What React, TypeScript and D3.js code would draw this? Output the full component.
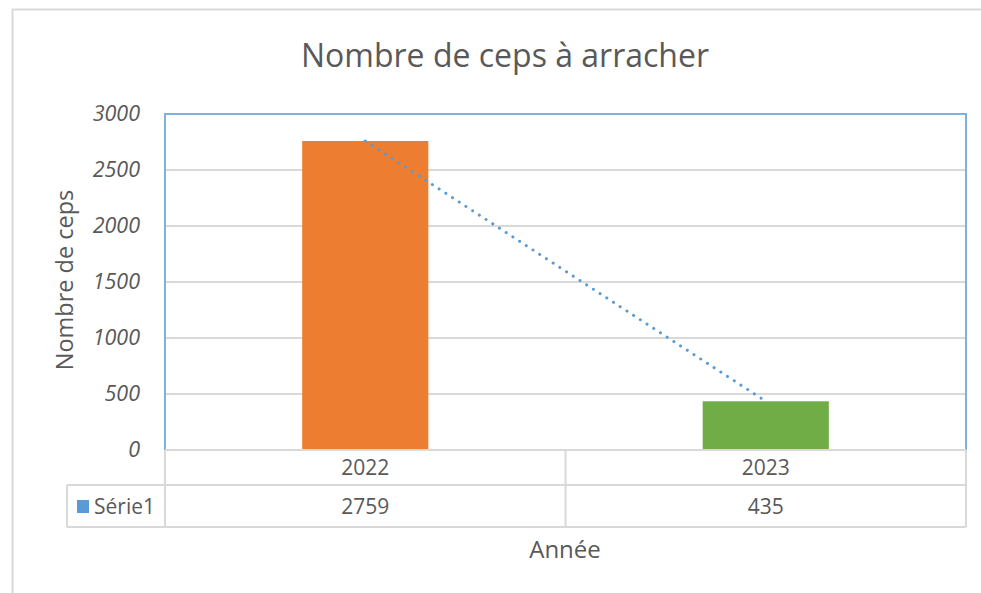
import React from 'react';
import * as d3 from 'd3';

const years = ['2022', '2023'];
const values = [2759, 435];
const barColors = ['#ED7D31', '#70AD47'];
const yTicks = [0, 500, 1000, 1500, 2000, 2500, 3000];
const seriesName = 'Série1';

const W = 981;
const H = 593;
const FONT = '"Open Sans", "Liberation Sans", sans-serif';
const GRID = '#d9d9d9';
const TEXT = '#595959';

export default function App() {
  const left = 165;
  const right = 966;
  const top = 114;
  const bottom = 450;

  const x = d3.scaleBand<string>().domain(years).range([left, right]).paddingInner(0).paddingOuter(0);
  const y = d3.scaleLinear().domain([0, 3000]).range([bottom, top]);
  const barW = x.bandwidth() * 0.315;

  // linear trend line through the two points
  const cx = years.map(yr => (x(yr) as number) + x.bandwidth() / 2);
  const trend = d3.line<number>().x((_, i) => cx[i]).y(d => y(d));

  const row1 = bottom;
  const row2 = 485;
  const row3 = 527;
  const tableLeft = 67;

  return (
    <svg width={W} height={H} style={{ position: 'absolute', left: 0, top: 0, background: '#fff' }}>
      <rect x={12.5} y={9.5} width={W + 20} height={H + 20} fill="#fff" stroke={GRID} strokeWidth={2} />

      <text x={505} y={67} textAnchor="middle" fontFamily={FONT} fontSize={32} fill={TEXT}>
        Nombre de ceps à arracher
      </text>

      {yTicks.map(t => (
        <g key={t}>
          {t > 0 && t < 3000 && (
            <line x1={left} x2={right} y1={y(t)} y2={y(t)} stroke={GRID} strokeWidth={2} />
          )}
          <text x={140} y={y(t) + 7} textAnchor="end" fontFamily={FONT} fontStyle="italic"
            fontSize={21.5} fill={TEXT}>{t}</text>
        </g>
      ))}

      {values.map((v, i) => (
        <rect key={years[i]} x={cx[i] - barW / 2} y={y(v)} width={barW} height={y(0) - y(v)}
          fill={barColors[i]} />
      ))}

      <path d={trend(values) || ''} fill="none" stroke="#5B9BD5" strokeWidth={3}
        strokeDasharray="0.1 7.9" strokeLinecap="round" />

      {/* plot border */}
      <path d={`M${left},${bottom}V${top}H${right}V${bottom}`} fill="none" stroke="#7fb0e0" strokeWidth={2} />

      {/* data table */}
      <g stroke={GRID} strokeWidth={2} fill="none">
        <line x1={left} x2={right} y1={row1} y2={row1} />
        <line x1={tableLeft} x2={right} y1={row2} y2={row2} />
        <line x1={tableLeft} x2={right} y1={row3} y2={row3} />
        <line x1={tableLeft} x2={tableLeft} y1={row2} y2={row3} />
        <line x1={left} x2={left} y1={row1} y2={row3} />
        {years.map(yr => (
          <line key={yr} x1={(x(yr) as number) + x.bandwidth()} x2={(x(yr) as number) + x.bandwidth()}
            y1={row1} y2={row3} />
        ))}
      </g>
      {years.map((yr, i) => (
        <g key={yr} fontFamily={FONT} fontSize={21} fill={TEXT} textAnchor="middle">
          <text x={cx[i]} y={(row1 + row2) / 2 + 7.5}>{yr}</text>
          <text x={cx[i]} y={(row2 + row3) / 2 + 7.5}>{values[i]}</text>
        </g>
      ))}
      <rect x={77} y={500} width={12} height={13} fill="#5B9BD5" />
      <text x={94} y={(row2 + row3) / 2 + 7.5} fontFamily={FONT} fontSize={21} fill={TEXT}>{seriesName}</text>

      <text x={565} y={558} textAnchor="middle" fontFamily={FONT} fontSize={24} fill={TEXT}>Année</text>
      <text transform={`translate(73,${(top + bottom) / 2 - 2}) rotate(-90)`} textAnchor="middle"
        fontFamily={FONT} fontSize={23.5} fill={TEXT}>Nombre de ceps</text>
    </svg>
  );
}
